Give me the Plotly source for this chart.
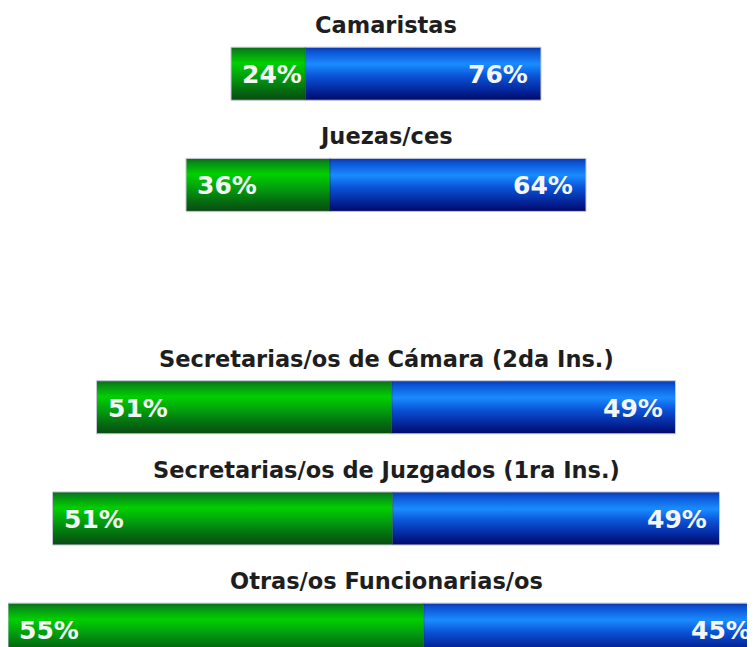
import plotly.graph_objects as go

# ---- data ----
categories = [
    "Camaristas",
    "Juezas/ces",
    "Secretarias/os de Cámara (2da Ins.)",
    "Secretarias/os de Juzgados (1ra Ins.)",
    "Otras/os Funcionarias/os",
]
mujeres_pct = [24, 36, 51, 51, 55]
varones_pct = [76, 64, 49, 49, 45]
totals = [310, 400, 579, 667, 756]  # relative size of each group (bar length)

# ---- styling ----
GREEN = [[0.0, "#086a1a"], [0.08, "#078c16"], [0.3, "#00d000"], [0.55, "#02a00e"],
         [0.8, "#046e10"], [1.0, "#0a4b12"]]
BLUE = [[0.0, "#0a36a8"], [0.08, "#0b52d4"], [0.32, "#1a8cff"], [0.55, "#0a52d6"],
        [0.8, "#05289e"], [1.0, "#02086a"]]
BAR_H = 0.477
PAD = 10  # inner padding of the percentage labels (x units = pixels here)
TITLE_FONT = dict(family="DejaVu Sans", size=22.5, color="#1e1e1e")
LABEL_FONT = dict(family="DejaVu Sans", size=25, color="#f4f6f4")

# an empty row separates judges from the secretaries
row_pos = [i + (1 if i >= 2 else 0) for i in range(len(categories))]

fig = go.Figure()
annotations = []
for i, cat in enumerate(categories):
    y = row_pos[i]
    left = -totals[i] / 2
    right = totals[i] / 2
    split = left + totals[i] * mujeres_pct[i] / (mujeres_pct[i] + varones_pct[i])
    top, bot = y - BAR_H / 2, y + BAR_H / 2
    for x0, x1, cs in ((left, split, GREEN), (split, right, BLUE)):
        fig.add_trace(go.Scatter(
            x=[x0, x1, x1, x0, x0], y=[top, top, bot, bot, top],
            mode="lines", fill="toself", line=dict(width=0),
            fillgradient=dict(type="vertical", colorscale=cs, start=top, stop=bot),
            hoverinfo="skip", showlegend=False))
    fig.add_trace(go.Scatter(
        x=[left, right, right, left, left], y=[top, top, bot, bot, top],
        mode="lines", line=dict(color="#c3c7d4", width=1),
        hoverinfo="skip", showlegend=False))
    fig.add_trace(go.Scatter(
        x=[split, split], y=[top, bot], mode="lines",
        line=dict(color="rgba(0,20,40,0.35)", width=1),
        hoverinfo="skip", showlegend=False))
    annotations.append(dict(x=0, y=top, text=f"<b>{cat}</b>", showarrow=False,
                            xanchor="center", yanchor="middle", yshift=22,
                            font=TITLE_FONT))
    annotations.append(dict(x=left + PAD - 1, y=y, text=f"<b>{mujeres_pct[i]}%</b>",
                            showarrow=False, xanchor="left", yanchor="middle", yshift=-1,
                            font=LABEL_FONT))
    annotations.append(dict(x=right - PAD - 1, y=y, text=f"<b>{varones_pct[i]}%</b>",
                            showarrow=False, xanchor="right", yanchor="middle", yshift=-1,
                            font=LABEL_FONT))

fig.update_layout(
    width=755, height=647,
    margin=dict(l=0, r=0, t=0, b=0),
    paper_bgcolor="white", plot_bgcolor="white",
    xaxis=dict(range=[-378, 377], visible=False, fixedrange=True),
    yaxis=dict(range=[5.228, -0.591], visible=False, fixedrange=True),
    annotations=annotations,
    showlegend=False,
)
fig.write_html("out.html")
